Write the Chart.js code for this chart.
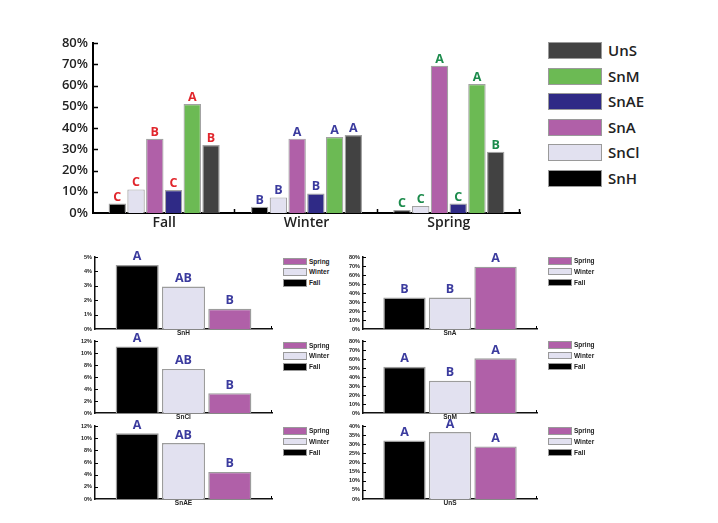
<!DOCTYPE html>
<html><head><meta charset="utf-8">
<script src="https://cdn.jsdelivr.net/npm/chart.js@4.4.0/dist/chart.umd.min.js"></script>
<style>
html,body{margin:0;padding:0;background:#fff;}
body{width:718px;height:523px;overflow:hidden;position:relative;font-family:'Open Sans','Liberation Sans',sans-serif;}
canvas{position:absolute;}
.lgi{position:absolute;display:flex;align-items:center;white-space:nowrap;}
.lgb{box-sizing:border-box;border:1px solid #9a9a9a;flex:none;}
</style></head><body>
<canvas id="main" width="530" height="240" style="left:0;top:0;width:530px;height:240px"></canvas>
<script>
const FONT = "'Open Sans','Liberation Sans',sans-serif";
const SFONT = "'Liberation Sans',Arial,sans-serif";

// ---- data ----
const seasons = ['Fall', 'Winter', 'Spring'];
const groups = ['SnH', 'SnCl', 'SnA', 'SnAE', 'SnM', 'UnS'];
const SnH  = [4.45, 2.95, 1.4];
const SnCl = [11.1, 7.35, 3.3];
const SnA  = [34.9, 35.0, 69.3];
const SnAE = [10.8, 9.2, 4.45];
const SnM  = [51.3, 35.8, 60.7];
const UnS  = [32.0, 36.7, 28.8];
const groupValues = [SnH, SnCl, SnA, SnAE, SnM, UnS];

// letters on main chart, per group, by season
const lettersSnH  = ['C', 'B', 'C'];
const lettersSnCl = ['C', 'B', 'C'];
const lettersSnA  = ['B', 'A', 'A'];
const lettersSnAE = ['C', 'B', 'C'];
const lettersSnM  = ['A', 'A', 'A'];
const lettersUnS  = ['B', 'A', 'B'];
const groupLetters = [lettersSnH, lettersSnCl, lettersSnA, lettersSnAE, lettersSnM, lettersUnS];

// letters on small charts, by season (Fall, Winter, Spring)
const smallLettersSnH  = ['A', 'AB', 'B'];
const smallLettersSnCl = ['A', 'AB', 'B'];
const smallLettersSnA  = ['B', 'B', 'A'];
const smallLettersSnAE = ['A', 'AB', 'B'];
const smallLettersSnM  = ['A', 'B', 'A'];
const smallLettersUnS  = ['A', 'A', 'A'];
const smallLetters = [smallLettersSnH, smallLettersSnCl, smallLettersSnA, smallLettersSnAE, smallLettersSnM, smallLettersUnS];

// main y ticks
const mainYMax = 80, mainYStep = 10;
// small chart y axes (same order as groups)
const smallYMax  = [5, 12, 80, 12, 80, 40];
const smallYStep = [1, 2, 10, 2, 10, 5];

// ---- styles ----
const groupColors = ['#000000', '#e2e1f0', '#b060a8', '#2f2a86', '#6cba54', '#424242'];
const seasonColors = ['#000000', '#e2e1f0', '#b060a8'];
const seasonLetterColors = ['#e1262c', '#3b3b9e', '#1c8b4c'];
const smallLetterColor = '#3b3b9e';

// ---- plugins ----
const letterPlugin = {
  id: 'letters',
  afterDatasetsDraw(chart, args, opts) {
    const ctx = chart.ctx;
    ctx.save();
    ctx.font = opts.font;
    ctx.textAlign = 'center';
    ctx.textBaseline = 'alphabetic';
    chart.data.datasets.forEach((ds, di) => {
      const meta = chart.getDatasetMeta(di);
      meta.data.forEach((bar, i) => {
        const t = ds.letters[i];
        if (!t) return;
        ctx.fillStyle = opts.colors ? opts.colors[i] : opts.color;
        ctx.fillText(t, bar.x, bar.y - opts.gap);
      });
    });
    ctx.restore();
  }
};
const tickPlugin = {
  id: 'tickMarks',
  afterDraw(chart, args, opts) {
    const {ctx, chartArea, scales: {x, y}} = chart;
    ctx.save();
    ctx.strokeStyle = '#000';
    ctx.lineWidth = opts.width;
    ctx.beginPath();
    y.ticks.forEach((t, i) => {
      if (t.value === 0) return;
      const py = Math.round(y.getPixelForTick(i)) + 0.5;
      ctx.moveTo(chartArea.left + opts.yFrom, py);
      ctx.lineTo(chartArea.left + opts.yTo, py);
    });
    for (let i = 1; i <= x.ticks.length; i++) {
      const px = Math.round(x.getPixelForValue(i - 0.5)) - 0.5;
      ctx.moveTo(px, chartArea.bottom);
      ctx.lineTo(px, chartArea.bottom - opts.xLen);
    }
    ctx.stroke();
    ctx.restore();
  }
};

// ---- main chart ----
new Chart(document.getElementById('main'), {
  type: 'bar',
  data: {
    labels: seasons,
    datasets: groups.map((g, i) => ({
      label: g,
      data: groupValues[i],
      letters: groupLetters[i],
      backgroundColor: groupColors[i],
      borderColor: '#a2a2a2',
      borderWidth: 1.2,
      categoryPercentage: 0.79,
      barPercentage: 0.93
    }))
  },
  options: {
    responsive: false,
    animation: false,
    layout: {padding: {top: 43, right: 10, left: 0, bottom: 0}},
    plugins: {
      legend: {display: false},
      tooltip: {enabled: false},
      letters: {font: "bold 12.5px " + FONT, colors: seasonLetterColors, gap: 3},
      tickMarks: {width: 1.5, yFrom: 0, yTo: 5, xLen: 4}
    },
    scales: {
      x: {
        grid: {display: false, drawTicks: false},
        border: {color: '#000', width: 2},
        ticks: {font: {family: FONT, size: 14, weight: '600'}, color: '#222', padding: 2},
        afterFit(s) { s.height = 27; }
      },
      y: {
        min: 0, max: mainYMax,
        grid: {display: false, drawTicks: false},
        border: {color: '#000', width: 2},
        ticks: {stepSize: mainYStep, autoSkip: false, callback: v => v + '%', font: {family: FONT, size: 13, weight: '600'}, color: '#222', padding: 5},
        afterFit(s) { s.width = 93; }
      }
    }
  },
  plugins: [letterPlugin, tickPlugin]
});

// main legend (HTML, reversed order as in reference)
const mainLegendTop = 42, mainLegendPitch = 25.6;
groups.slice().reverse().forEach((g, k) => {
  const i = groups.indexOf(g);
  const d = document.createElement('div');
  d.className = 'lgi';
  d.style.left = '548px';
  d.style.top = (mainLegendTop + k * mainLegendPitch) + 'px';
  d.style.height = '17px';
  d.innerHTML = '<span class="lgb" style="width:54px;height:17px;background:' + groupColors[i] + '"></span>' +
    '<span style="margin-left:6px;font-size:15px;font-weight:600;color:#222;line-height:17px">' + g + '</span>';
  document.body.appendChild(d);
});

// ---- small charts ----
const smallLayout = [
  {g: 'SnH',  left: 40,  top: 244, yW: 55, padTop: 13, padRight: 8,  xH: 11, lgX: 283, lgY: 257.5},
  {g: 'SnCl', left: 40,  top: 329, yW: 55, padTop: 12, padRight: 8,  xH: 12, lgX: 283, lgY: 341.5},
  {g: 'SnAE', left: 40,  top: 414, yW: 55, padTop: 12, padRight: 8,  xH: 11, lgX: 283, lgY: 427},
  {g: 'SnA',  left: 310, top: 244, yW: 53, padTop: 13, padRight: 13, xH: 11, lgX: 548, lgY: 257},
  {g: 'SnM',  left: 310, top: 329, yW: 53, padTop: 12, padRight: 13, xH: 12, lgX: 548, lgY: 341},
  {g: 'UnS',  left: 310, top: 414, yW: 53, padTop: 12, padRight: 13, xH: 11, lgX: 548, lgY: 427}
];

smallLayout.forEach(L => {
  const gi = groups.indexOf(L.g);
  const cv = document.createElement('canvas');
  cv.width = 240; cv.height = 96;
  cv.style.left = L.left + 'px'; cv.style.top = L.top + 'px';
  cv.style.width = '240px'; cv.style.height = '96px';
  document.body.appendChild(cv);
  new Chart(cv, {
    type: 'bar',
    data: {
      labels: [L.g],
      datasets: seasons.map((s, si) => ({
        label: s,
        data: [groupValues[gi][si]],
        letters: [smallLetters[gi][si]],
        backgroundColor: seasonColors[si],
        borderColor: '#9c9c9c',
        borderWidth: 1.4,
        categoryPercentage: 0.785,
        barPercentage: 0.93
      }))
    },
    options: {
      responsive: false,
      animation: false,
      layout: {padding: {top: L.padTop, right: L.padRight, left: 0, bottom: 0}},
      plugins: {
        legend: {display: false},
        tooltip: {enabled: false},
        letters: {font: "bold 12.5px " + FONT, color: smallLetterColor, gap: 4.5},
        tickMarks: {width: 1, yFrom: 0, yTo: 3, xLen: 3}
      },
      scales: {
        x: {
          grid: {display: false, drawTicks: false},
          border: {color: '#111', width: 1.5},
          ticks: {font: {family: SFONT, size: 6.5, weight: 'bold'}, color: '#222', padding: 0},
          afterFit(s) { s.height = L.xH; }
        },
        y: {
          min: 0, max: smallYMax[gi],
          grid: {display: false, drawTicks: false},
          border: {color: '#111', width: 1.5},
          ticks: {stepSize: smallYStep[gi], autoSkip: false, callback: v => v + '%', font: {family: SFONT, size: 5.5, weight: 'bold'}, color: '#222', padding: 3},
          afterFit(s) { s.width = L.yW; }
        }
      }
    },
    plugins: [letterPlugin, tickPlugin]
  });
  // small legend: Spring, Winter, Fall
  seasons.slice().reverse().forEach((s, k) => {
    const si = seasons.indexOf(s);
    const d = document.createElement('div');
    d.className = 'lgi';
    d.style.left = L.lgX + 'px';
    d.style.top = (L.lgY + k * 10.8) + 'px';
    d.style.height = '7.5px';
    d.innerHTML = '<span class="lgb" style="width:24px;height:7.5px;border-color:#999;background:' + seasonColors[si] + '"></span>' +
      '<span style="margin-left:2px;font-family:Liberation Sans,Arial,sans-serif;font-size:6.5px;font-weight:bold;color:#222;line-height:7.5px">' + s + '</span>';
    document.body.appendChild(d);
  });
});
</script>
</body></html>
